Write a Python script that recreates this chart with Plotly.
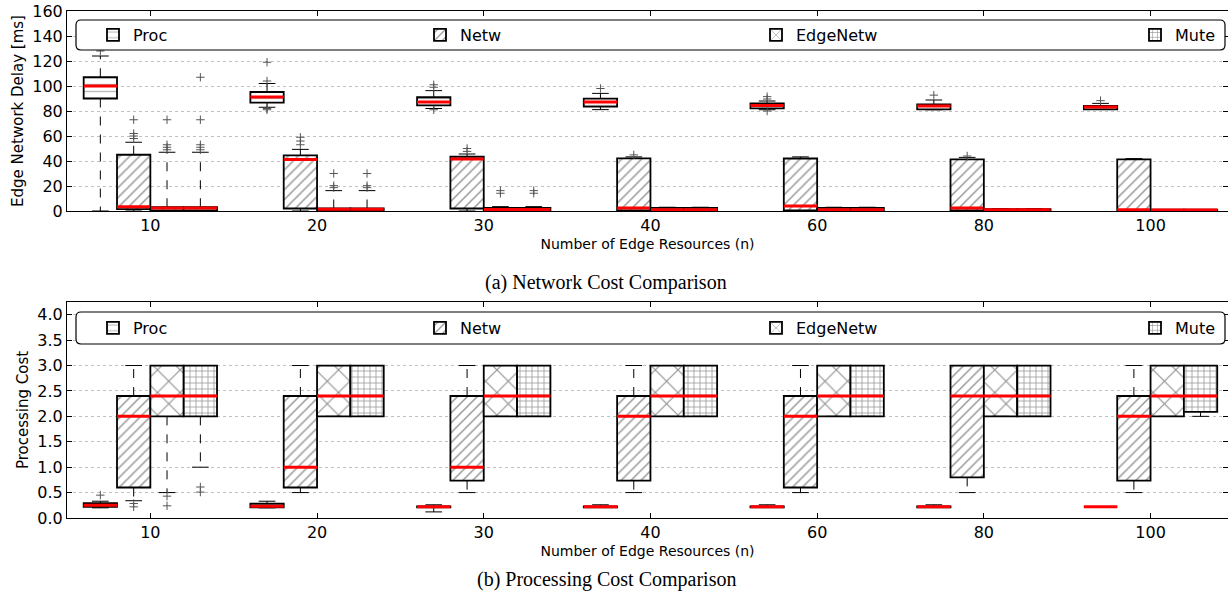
import plotly.graph_objects as go

# ---------------- data ----------------
groups = ['10', '20', '30', '40', '60', '80', '100']
methods = ['Proc', 'Netw', 'EdgeNetw', 'Mute']

# (a) Edge network delay [ms]
proc_d_q1 = [90, 86.7, 84.5, 83.5, 82.1, 81.3, 81.3]
proc_d_med = [100, 91.2, 87.2, 87.2, 84.5, 84.1, 83.2]
proc_d_q3 = [107, 95.2, 91, 89.9, 86.1, 85.3, 84]
proc_d_lo = [0, 83, 82, 81.1, 81, 81, 81.3]
proc_d_hi = [124, 102, 96.3, 94.1, 88, 88.8, 86.1]
proc_d_out = [[128], [104, 119, 82, 81], [99, 101, 81], [98], [89.6, 91.5, 80], [92.7], [88.3]]

netw_d_q1 = [1.5, 2, 2, 0.5, 0.5, 0.5, 0.5]
netw_d_med = [3.5, 41.3, 41.6, 2.5, 4, 2.4, 1]
netw_d_q3 = [45, 44.5, 43.4, 42.1, 42, 41.3, 41.3]
netw_d_lo = [0, 0, 0, 0, 0, 0, 0]
netw_d_hi = [55, 49.3, 45.6, 43.3, 43.3, 42.9, 41.9]
netw_d_out = [[58, 60, 62, 73], [53, 56, 59], [47.7, 50], [44.9], [], [44], []]

edge_d_q1 = [0.5, 0.5, 0.5, 0.5, 0.5, 0.5, 0.3]
edge_d_med = [2.5, 1.5, 1.2, 1, 1, 1, 0.8]
edge_d_q3 = [3, 2, 2.5, 2.5, 2.5, 1.5, 1]
edge_d_lo = [0, 0, 0, 0, 0, 0, 0]
edge_d_hi = [47, 16.3, 3.5, 3, 3, 2, 1]
edge_d_out = [[49, 51, 53, 73], [18.7, 20.3, 30], [14.2, 16.3], [], [], [], []]

mute_d_q1 = [0.5, 0.5, 0.5, 0.5, 0.5, 0.5, 0.3]
mute_d_med = [2.5, 1.5, 1.2, 1, 1, 1, 0.8]
mute_d_q3 = [3, 2, 2.5, 2.5, 2.5, 1.5, 1]
mute_d_lo = [0, 0, 0, 0, 0, 0, 0]
mute_d_hi = [47, 16.3, 3.5, 3, 3, 2, 1]
mute_d_out = [[49, 51, 53, 73, 107], [18.7, 20.3, 30], [14.2, 16.3], [], [], [], []]

# (b) Processing cost
proc_c_q1 = [0.22, 0.21, 0.21, 0.21, 0.21, 0.21, 0.22]
proc_c_med = [0.25, 0.23, 0.22, 0.22, 0.22, 0.22, 0.22]
proc_c_q3 = [0.29, 0.28, 0.23, 0.23, 0.23, 0.23, 0.22]
proc_c_lo = [0.2, 0.2, 0.12, 0.21, 0.21, 0.21, 0.22]
proc_c_hi = [0.33, 0.33, 0.26, 0.26, 0.26, 0.26, 0.22]
proc_c_out = [[0.45], [], [], [], [], [], []]

netw_c_q1 = [0.6, 0.6, 0.735, 0.735, 0.6, 0.8, 0.735]
netw_c_med = [2.0, 1.0, 1.0, 2.0, 2.0, 2.4, 2.0]
netw_c_q3 = [2.4, 2.4, 2.4, 2.4, 2.4, 3.0, 2.4]
netw_c_lo = [0.34, 0.5, 0.5, 0.5, 0.5, 0.5, 0.5]
netw_c_hi = [3.0, 3.0, 3.0, 3.0, 3.0, 3.0, 3.0]
netw_c_out = [[0.285, 0.22], [], [], [], [], [], []]

edge_c_q1 = [2.0, 2.0, 2.0, 2.0, 2.0, 2.0, 2.0]
edge_c_med = [2.4, 2.4, 2.4, 2.4, 2.4, 2.4, 2.4]
edge_c_q3 = [3.0, 3.0, 3.0, 3.0, 3.0, 3.0, 3.0]
edge_c_lo = [0.5, 2.0, 2.0, 2.0, 2.0, 2.0, 2.0]
edge_c_hi = [3.0, 3.0, 3.0, 3.0, 3.0, 3.0, 3.0]
edge_c_out = [[0.43, 0.24], [], [], [], [], [], []]

mute_c_q1 = [2.0, 2.0, 2.0, 2.0, 2.0, 2.0, 2.09]
mute_c_med = [2.4, 2.4, 2.4, 2.4, 2.4, 2.4, 2.4]
mute_c_q3 = [3.0, 3.0, 3.0, 3.0, 3.0, 3.0, 3.0]
mute_c_lo = [1.0, 2.0, 2.0, 2.0, 2.0, 2.0, 2.0]
mute_c_hi = [3.0, 3.0, 3.0, 3.0, 3.0, 3.0, 3.0]
mute_c_out = [[0.61, 0.51], [], [], [], [], [], []]

delay_stats = [
    (proc_d_q1, proc_d_med, proc_d_q3, proc_d_lo, proc_d_hi, proc_d_out),
    (netw_d_q1, netw_d_med, netw_d_q3, netw_d_lo, netw_d_hi, netw_d_out),
    (edge_d_q1, edge_d_med, edge_d_q3, edge_d_lo, edge_d_hi, edge_d_out),
    (mute_d_q1, mute_d_med, mute_d_q3, mute_d_lo, mute_d_hi, mute_d_out),
]
cost_stats = [
    (proc_c_q1, proc_c_med, proc_c_q3, proc_c_lo, proc_c_hi, proc_c_out),
    (netw_c_q1, netw_c_med, netw_c_q3, netw_c_lo, netw_c_hi, netw_c_out),
    (edge_c_q1, edge_c_med, edge_c_q3, edge_c_lo, edge_c_hi, edge_c_out),
    (mute_c_q1, mute_c_med, mute_c_q3, mute_c_lo, mute_c_hi, mute_c_out),
]

# ---------------- styling ----------------
W, H = 1228, 607
PL, PR, PT, PB = 67, 1228, 11, 518       # plot area in window pixels
ML, MR, MT, MB = PL, W - PR, PT, H - PB
PW, PH = PR - PL, PB - PT
FONT = 'DejaVu Sans'
offsets = [-0.3, -0.1, 0.1, 0.3]
BW = 0.2
patterns = [
    dict(shape='-', size=7, solidity=0.2, fgcolor='#777', bgcolor='white'),
    dict(shape='/', size=7, solidity=0.22, fgcolor='#333', bgcolor='white'),
    dict(shape='x', size=16, solidity=0.14, fgcolor='#222', bgcolor='white'),
    dict(shape='+', size=6, solidity=0.25, fgcolor='#333', bgcolor='white'),
]


def px_x(p):
    return (p - PL) / PW


def px_y(p):
    return (PB - p) / PH


fig = go.Figure()


def add_panel(stats, xa, ya, legend_names):
    whx, why, capx, capy, medx, medy, ox, oy = [], [], [], [], [], [], [], []
    for k, (q1, med, q3, lo, hi, out) in enumerate(stats):
        pos = [i + 1 + offsets[k] for i in range(len(groups))]
        fig.add_trace(go.Bar(
            x=pos, y=[b - a for a, b in zip(q1, q3)], base=q1, width=BW,
            name=methods[k], legend=legend_names[k], showlegend=True,
            marker=dict(color='white', line=dict(color='black', width=1.8),
                        pattern=patterns[k]),
            xaxis=xa, yaxis=ya, hoverinfo='skip'))
        for i, p in enumerate(pos):
            whx += [p, p, None, p, p, None]
            why += [q3[i], hi[i], None, q1[i], lo[i], None]
            capx += [p - BW / 4, p + BW / 4, None, p - BW / 4, p + BW / 4, None]
            capy += [hi[i], hi[i], None, lo[i], lo[i], None]
            medx += [p - BW / 2, p + BW / 2, None]
            medy += [med[i], med[i], None]
            for v in out[i]:
                ox.append(p)
                oy.append(v)
    fig.add_trace(go.Scatter(x=whx, y=why, mode='lines', showlegend=False,
                             line=dict(color='black', width=1, dash='dash'),
                             xaxis=xa, yaxis=ya, hoverinfo='skip'))
    fig.add_trace(go.Scatter(x=capx, y=capy, mode='lines', showlegend=False,
                             line=dict(color='black', width=1),
                             xaxis=xa, yaxis=ya, hoverinfo='skip'))
    fig.add_trace(go.Scatter(x=medx, y=medy, mode='lines', showlegend=False,
                             line=dict(color='#ff0000', width=3),
                             xaxis=xa, yaxis=ya, hoverinfo='skip'))
    fig.add_trace(go.Scatter(x=ox, y=oy, mode='markers', showlegend=False,
                             marker=dict(symbol='cross-thin', size=6,
                                         line=dict(color='#555', width=1)),
                             xaxis=xa, yaxis=ya, hoverinfo='skip'))


add_panel(delay_stats, 'x', 'y', ['legend', 'legend2', 'legend3', 'legend4'])
add_panel(cost_stats, 'x2', 'y2', ['legend5', 'legend6', 'legend7', 'legend8'])

top_dom = [px_y(211), 1.0]
bot_dom = [0.0, px_y(302)]

axis_common = dict(showline=True, linecolor='black', linewidth=1, mirror='ticks',
                   ticks='inside', ticklen=5, tickcolor='black', zeroline=False,
                   tickfont=dict(family=FONT, size=16, color='black'))
xr = [0.5, 0.5 + PW / 166.7]

layout = dict(
    width=W, height=H, margin=dict(l=ML, r=MR, t=MT, b=MB),
    paper_bgcolor='white', plot_bgcolor='white', barmode='overlay',
    font=dict(family=FONT, color='black'),
    xaxis=dict(axis_common, domain=[0, 1], anchor='y', range=xr,
               tickvals=list(range(1, len(groups) + 1)), ticktext=groups, showgrid=False,
               title=dict(text='Number of Edge Resources (n)', standoff=4,
                          font=dict(family=FONT, size=14))),
    yaxis=dict(axis_common, domain=top_dom, anchor='x', range=[0, 160], dtick=20,
               showgrid=True, gridcolor='#c0c0c0', griddash='dot', gridwidth=1,
               title=dict(text='Edge Network Delay [ms]', standoff=5,
                          font=dict(family=FONT, size=15))),
    xaxis2=dict(axis_common, domain=[0, 1], anchor='y2', range=xr,
                tickvals=list(range(1, len(groups) + 1)), ticktext=groups, showgrid=False,
                title=dict(text='Number of Edge Resources (n)', standoff=4,
                           font=dict(family=FONT, size=14))),
    yaxis2=dict(axis_common, domain=bot_dom, anchor='x2', range=[0, 4.25],
                tickvals=[0, 0.5, 1, 1.5, 2, 2.5, 3, 3.5, 4], tickformat='.1f',
                showgrid=True, gridcolor='#c0c0c0', griddash='dot', gridwidth=1,
                title=dict(text='Processing Cost', standoff=5,
                           font=dict(family=FONT, size=15))),
)

# legends: one per entry so positions match the expanded matplotlib legend
text_starts = [133, 460, 796, 1175]
for panel, yc in enumerate([35, 328]):
    for k in range(4):
        key = 'legend' if (panel == 0 and k == 0) else 'legend%d' % (panel * 4 + k + 1)
        layout[key] = dict(x=px_x(text_starts[k] - 40), y=px_y(yc), xanchor='left',
                           yanchor='middle', orientation='h', bgcolor='rgba(0,0,0,0)',
                           borderwidth=0, font=dict(family=FONT, size=16, color='black'),
                           itemclick=False)

fig.update_layout(**layout)


def rounded_path(x0, y0, x1, y1, r=5):
    X0, X1 = px_x(x0), px_x(x1)
    Y0, Y1 = px_y(y0), px_y(y1)  # Y0 top, Y1 bottom
    rx, ry = r / PW, r / PH
    return (f'M {X0 + rx},{Y0} L {X1 - rx},{Y0} Q {X1},{Y0} {X1},{Y0 - ry} '
            f'L {X1},{Y1 + ry} Q {X1},{Y1} {X1 - rx},{Y1} L {X0 + rx},{Y1} '
            f'Q {X0},{Y1} {X0},{Y1 + ry} L {X0},{Y0 - ry} Q {X0},{Y0} {X0 + rx},{Y0} Z')


for (y0, y1) in [(20, 50), (312, 344)]:
    fig.add_shape(type='path', path=rounded_path(76, y0, 1225, y1), xref='paper',
                  yref='paper', layer='above', fillcolor='white',
                  line=dict(color='black', width=1.2))

fig.add_annotation(text='(a) Network Cost Comparison', xref='paper', yref='paper',
                   x=px_x(606), y=px_y(282), showarrow=False,
                   font=dict(family='Liberation Serif', size=20, color='black'))
fig.add_annotation(text='(b) Processing Cost Comparison', xref='paper', yref='paper',
                   x=px_x(606), y=px_y(593), showarrow=False,
                   font=dict(family='Liberation Serif', size=20, color='black'))

# remove the default 8px page margin so the figure fills the window exactly
fig.write_html('out.html', config={'displayModeBar': False},
               post_script="document.body.style.margin='0';document.body.style.overflow='hidden';")
